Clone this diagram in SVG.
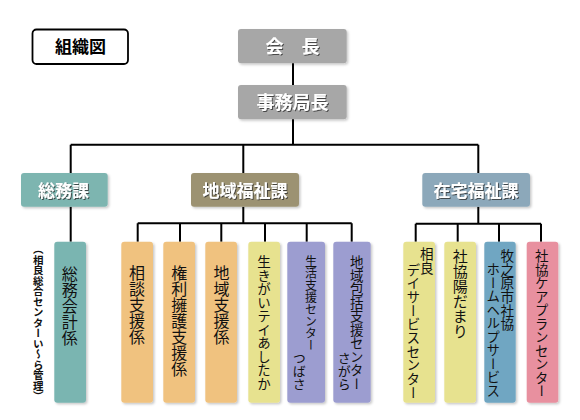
<svg xmlns="http://www.w3.org/2000/svg" width="580" height="420" viewBox="0 0 580 420">
<style>
.jp{font-family:"Noto Sans CJK JP","Noto Sans CJK SC",sans-serif}
.hd{font-family:"Noto Sans CJK JP",sans-serif;font-weight:bold;fill:#fff;text-anchor:middle}
.v{font-family:"Noto Sans CJK JP",sans-serif;writing-mode:vertical-rl;fill:#111}
.ve{text-anchor:end}
.box{filter:url(#sh)}
.ln{fill:none;stroke:#000;stroke-width:2}
</style>
<defs>
<filter id="sh" x="-20%" y="-20%" width="150%" height="150%">
<feDropShadow dx="1.5" dy="1.5" stdDeviation="1" flood-color="#000" flood-opacity="0.22"/>
</filter>
<filter id="ts" x="-20%" y="-30%" width="140%" height="170%">
<feDropShadow dx="1" dy="1" stdDeviation="0.7" flood-color="#333" flood-opacity="0.8"/>
</filter>
</defs>
<rect width="580" height="420" fill="#fff"/>
<g id="connectors" class="ln">
<path d="M293 63V85M293 119V144.7M70.7 144.7H478.3M70.7 144.7V173M243.3 144.7V173M478.3 144.7V173"/>
<path d="M70.7 206.7V241.7"/>
<path d="M243.3 206.7V223.3M137.7 223.3H351.7M137.7 223.3V241.7M180 223.3V241.7M221.3 223.3V241.7M265 223.3V241.7M306.7 223.3V241.7M351.7 223.3V241.7"/>
<path d="M478.3 206.7V223.7M415.7 223.7H541M415.7 223.7V241.7M457.7 223.7V241.7M499 223.7V241.7M541 223.7V241.7"/>
</g>
<g id="title">
<rect x="32.5" y="29.5" width="95.5" height="34.5" rx="4" fill="#fff" stroke="#000" stroke-width="1.8"/>
<text x="80.5" y="53" class="jp" font-size="17" font-weight="bold" text-anchor="middle" fill="#000">組織図</text>
</g>
<g id="kaicho">
<rect class="box" x="238" y="29" width="108.7" height="34.3" rx="3" fill="#a7a7a7"/>
<text x="292.5" y="53" class="hd" font-size="18" filter="url(#ts)">会　長</text>
</g>
<g id="jimukyokucho">
<rect class="box" x="238" y="85" width="108.7" height="34.3" rx="3" fill="#a7a7a7"/>
<text x="292.5" y="109" class="hd" font-size="18" filter="url(#ts)">事務局長</text>
</g>
<g id="somuka">
<rect class="box" x="21" y="173" width="86.7" height="33.7" rx="3" fill="#7db5b0"/>
<text x="63.5" y="196.5" class="hd" font-size="17" filter="url(#ts)">総務課</text>
</g>
<g id="chiikifukushika">
<rect class="box" x="191" y="173" width="108" height="33.7" rx="3" fill="#9c9272"/>
<text x="245" y="196.5" class="hd" font-size="17" filter="url(#ts)">地域福祉課</text>
</g>
<g id="zaitakufukushika">
<rect class="box" x="422.3" y="173" width="107.7" height="33.7" rx="3" fill="#8ca8ba"/>
<text x="476" y="196.5" class="hd" font-size="17" filter="url(#ts)">在宅福祉課</text>
</g>
<g id="note">
<text x="38.3" y="244" class="v" font-size="10.5" font-weight="bold" fill="#000">（相良総合センターい～ら管理）</text>
</g>
<g id="somukaikei">
<rect class="box" x="54.3" y="241.7" width="31.7" height="161" rx="3" fill="#7ab5b1"/>
<text x="69.7" y="266" class="v" font-size="16">総務会計係</text>
</g>
<g id="sodan">
<rect class="box" x="121.3" y="241.7" width="31.7" height="161" rx="3" fill="#f0c27f"/>
<text x="137" y="265" class="v" font-size="16">相談支援係</text>
</g>
<g id="kenri">
<rect class="box" x="163.3" y="241.7" width="31.7" height="161" rx="3" fill="#f0c27f"/>
<text x="179.3" y="264.5" class="v" font-size="16">権利擁護支援係</text>
</g>
<g id="chiikishien">
<rect class="box" x="205.3" y="241.7" width="31.7" height="161" rx="3" fill="#f0c27f"/>
<text x="221.5" y="264.5" class="v" font-size="16">地域支援係</text>
</g>
<g id="ikigai">
<rect class="box" x="248.3" y="241.7" width="31.7" height="161" rx="3" fill="#e7e28f"/>
<text x="264" y="255.5" class="v" font-size="13.5">生きがいテイあしたか</text>
</g>
<g id="seikatsu">
<rect class="box" x="287.3" y="241.7" width="37.7" height="161" rx="3" fill="#9c9dd0"/>
<text x="311" y="255.5" class="v" font-size="12">生活支援センター</text>
<text x="299.2" y="390.5" class="v ve" font-size="13">つばさ</text>
</g>
<g id="hokatsu">
<rect class="box" x="333.3" y="241.7" width="37.4" height="161" rx="3" fill="#9c9dd0"/>
<text x="356.7" y="255.5" class="v" font-size="13.5">地域包括支援センター</text>
<text x="344.2" y="390.5" class="v ve" font-size="13">さがら</text>
</g>
<g id="sagaraday">
<rect class="box" x="403.3" y="241.7" width="31.7" height="161" rx="3" fill="#e7e28f"/>
<text x="426.8" y="247.5" class="v" font-size="13.5">相良</text>
<text x="413.3" y="262.5" class="v" font-size="13.7">デイサービスセンター</text>
</g>
<g id="hidamari">
<rect class="box" x="444.3" y="241.7" width="31.7" height="161" rx="3" fill="#e7e28f"/>
<text x="460.2" y="249.3" class="v" font-size="15">社協陽だまり</text>
</g>
<g id="homehelp">
<rect class="box" x="484.3" y="241.7" width="31.4" height="161" rx="3" fill="#6fa6c2"/>
<text x="507.3" y="249.3" class="v" font-size="13.6">牧之原市社協</text>
<text x="493.3" y="262.6" class="v" font-size="13.5">ホームヘルプサービス</text>
</g>
<g id="careplan">
<rect class="box" x="526.7" y="241.7" width="31.6" height="161" rx="3" fill="#e8909f"/>
<text x="541.7" y="249.3" class="v" font-size="13.5">社協ケアプランセンター</text>
</g>
</svg>
